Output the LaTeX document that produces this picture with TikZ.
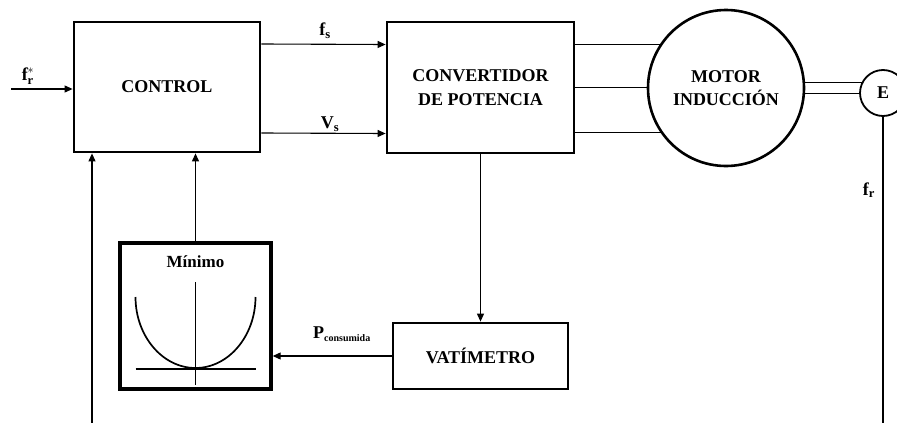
\documentclass[tikz,border=0pt]{standalone}
\usepackage{fontspec}
\setmainfont{Liberation Serif}
\usetikzlibrary{arrows.meta, positioning, backgrounds}
\tikzset{
    % Block styles
    block/.style={
        rectangle,
        draw=black,
        fill=white,
        line width=2.8pt,
        align=center,
        font=\fontsize{18}{24}\selectfont\bfseries
    },
    machine/.style={
        circle,
        draw=black,
        fill=white,
        line width=2.6pt,
        align=center,
        inner sep=0pt,
        font=\fontsize{18}{23}\selectfont\bfseries
    },
    signal label/.style={
        font=\fontsize{18}{20}\selectfont\bfseries
    },
    arrow style/.style={
        -{Triangle[length=8pt,width=7pt]},
        line width=1.1pt,
        black
    },
    wire/.style={
        line width=1.1pt,
        black
    }
}
\begin{document}
\begin{tikzpicture}[x=1pt, y=-1pt]
    \useasboundingbox (0,0) rectangle (897,423);

    % Blocks
    \node[block, minimum width=186pt, minimum height=130pt] (control) at (167, 87) {CONTROL};
    \node[block, minimum width=187pt, minimum height=131pt] (conv) at (480.5, 87.5) {CONVERTIDOR\\DE POTENCIA};
    \node[machine, minimum size=156pt] (motor) at (726, 88) {MOTOR\\INDUCCIÓN};
    \node[machine, minimum size=46pt, line width=1.8pt] (enc) at (883, 93) {E};
    \node[block, minimum width=175pt, minimum height=66pt] (vat) at (480.5, 356) {VATÍMETRO};
    \node[block, minimum width=151pt, minimum height=146pt, line width=3.4pt] (minimo) at (195.5, 316) {};

    % Minimum curve inside the block
    \begin{scope}[shift={(minimo.center)}]
        \node[font=\fontsize{17}{19}\selectfont\bfseries] (mintext) at (0, -54) {Mínimo};
        \draw[line width=1.7pt] (0, -34) -- (0, 69);
        \draw[line width=1.7pt] (-60, 53) -- (60, 53);
        \draw[line width=1.7pt] (-60, -19) .. controls (-60, 20) and (-33, 52) .. (0, 52)
            .. controls (33, 52) and (60, 20) .. (60, -19);
    \end{scope}

    % Wires behind the machines
    \begin{scope}[on background layer]
        \foreach \dy in {43, 0, -45} {
            \draw[wire] ([yshift=\dy pt]conv.east) -- ([yshift=\dy pt]conv.east -| motor.center);
        }
        \draw[line width=1.3pt, double=white, double distance=10pt] (motor.center) -- (motor.center -| enc.center);
    \end{scope}

    % Signals
    \coordinate (ref in) at (11, 89);
    \coordinate (left end) at (92, 423);
    \coordinate (right end) at (883, 423);
    \draw[arrow style] (ref in) -- (ref in -| control.west);
    \draw[arrow style] ([yshift=43pt]control.east) -- ([yshift=43pt]conv.west);
    \draw[arrow style] ([yshift=-46pt]control.east) -- ([yshift=-46pt]conv.west);
    \draw[arrow style] (conv.south -| vat.north) -- (vat.north);
    \draw[arrow style] (vat.west) -- (vat.west -| minimo.east);
    \draw[arrow style] (minimo.north) -- (minimo.north |- control.south);
    \draw[arrow style] (left end) -- (left end |- control.south);
    \draw[wire] (enc.south) -- (right end);

    % Labels
    \node[signal label] (fref) at (28, 76) {f$_{\mathbf{r}}^{\mathbf{*}}$};
    \node[signal label] (fs) at (325, 31) {f$_{\mathbf{s}}$};
    \node[signal label] (vs) at (330, 124) {V$_{\mathbf{s}}$};
    \node[signal label] (pcons) at (342, 334) {P$_{\textbf{\fontsize{10}{11}\selectfont consumida}}$};
    \node[signal label] (fr) at (869, 190) {f$_{\mathbf{r}}$};
\end{tikzpicture}
\end{document}
